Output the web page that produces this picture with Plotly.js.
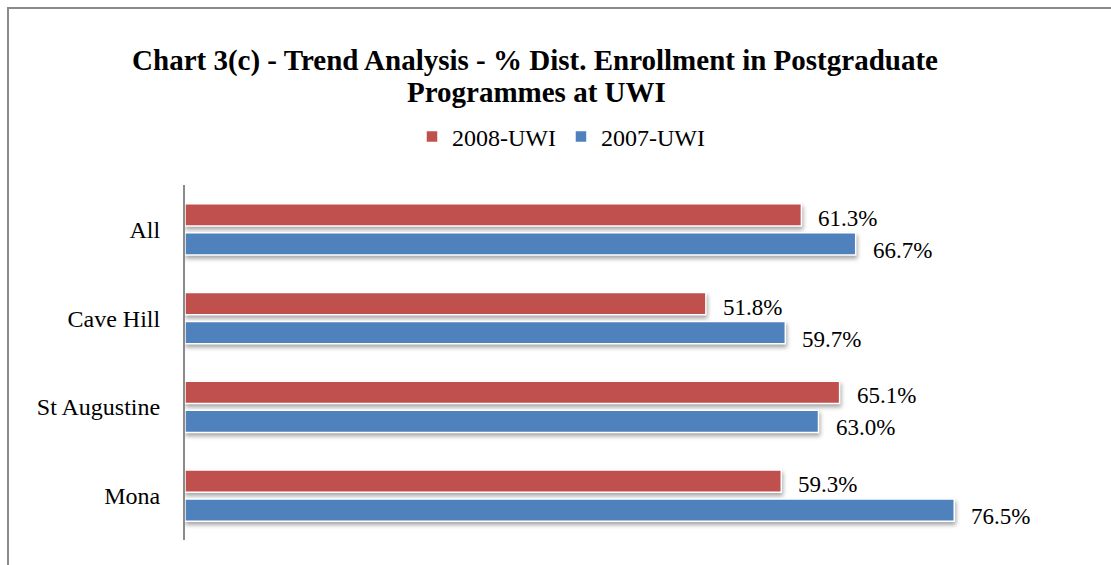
<!DOCTYPE html>
<html>
<head>
<meta charset="utf-8">
<script src="https://cdn.plot.ly/plotly-3.0.1.min.js"></script>
<style>
  html, body { margin: 0; padding: 0; background: #fff; }
  #wrap { position: relative; width: 1111px; height: 565px; overflow: hidden; }
  #frame { position: absolute; left: 7px; top: 7px; width: 1200px; height: 700px;
           border-left: 2px solid #8a8a8a; border-top: 2px solid #8a8a8a; pointer-events: none; }
  #chart { position: absolute; left: 0; top: 0; width: 1111px; height: 565px; }
  .barlayer .point path { filter: drop-shadow(1px 3px 2px rgba(0,0,0,0.35)); }
</style>
</head>
<body>
<div id="wrap">
  <div id="chart"></div>
  <div id="frame"></div>
</div>
<script>
const categories = ['All', 'Cave Hill', 'St Augustine', 'Mona'];
const values2008 = [61.3, 51.8, 65.1, 59.3];
const values2007 = [66.7, 59.7, 63.0, 76.5];
const seriesNames = ['2008-UWI', '2007-UWI'];
const seriesColors = ['#C0504D', '#4F81BD'];
const titleLines = ['Chart 3(c) - Trend Analysis - % Dist. Enrollment in Postgraduate', 'Programmes at UWI'];

const serif = '"Liberation Serif", "Times New Roman", serif';

const traces = [values2008, values2007].map((vals, i) => ({
  type: 'bar',
  orientation: 'h',
  name: seriesNames[i],
  y: categories,
  x: vals,
  marker: { color: seriesColors[i], line: { color: '#ffffff', width: 1.5 } },
  hoverinfo: 'skip'
}));

const annotations = [];
const yShifts = [11, -21];
[values2008, values2007].forEach((vals, i) => {
  vals.forEach((v, j) => {
    annotations.push({
      x: v, y: categories[j], xref: 'x', yref: 'y',
      text: v.toFixed(1) + '%', showarrow: false,
      xanchor: 'left', yanchor: 'middle', xshift: 15, yshift: yShifts[i],
      font: { family: serif, size: 23, color: '#000' }
    });
  });
});
annotations.push({
  text: '<b>' + titleLines[1] + '</b>', showarrow: false,
  xref: 'paper', yref: 'paper', x: (536 - 185) / 905, y: 1 + 93 / 355,
  xanchor: 'center', yanchor: 'middle',
  font: { family: serif, size: 29, color: '#000' }
});

const layout = {
  width: 1111, height: 565,
  margin: { l: 185, r: 21, t: 185, b: 25 },
  paper_bgcolor: 'rgba(0,0,0,0)',
  plot_bgcolor: 'rgba(0,0,0,0)',
  barmode: 'group',
  bargap: 0.345,
  bargroupgap: 0.24,
  title: {
    text: '<b>' + titleLines[0] + '</b>',
    font: { family: serif, size: 29, color: '#000' },
    x: 535 / 1111, xref: 'container', xanchor: 'center',
    y: 1 - 60 / 565, yref: 'container', yanchor: 'middle'
  },
  showlegend: true,
  legend: {
    orientation: 'h', x: 561 / 1111, xref: 'container', xanchor: 'center',
    y: 1 - 137 / 565, yref: 'container', yanchor: 'middle',
    font: { family: serif, size: 24, color: '#000' },
    traceorder: 'normal', itemwidth: 30
  },
  xaxis: {
    range: [0, 90], showgrid: false, zeroline: false, showline: false,
    showticklabels: false, ticks: ''
  },
  yaxis: {
    type: 'category', categoryorder: 'array', categoryarray: categories,
    autorange: 'reversed', showgrid: false, zeroline: false,
    showline: true, linecolor: '#8a8a8a', linewidth: 2,
    ticks: '', ticklabelstandoff: 18,
    tickfont: { family: serif, size: 24, color: '#000' }
  },
  annotations: annotations,
  font: { family: serif }
};

Plotly.newPlot('chart', traces, layout, { displayModeBar: false, staticPlot: true });
</script>
</body>
</html>
